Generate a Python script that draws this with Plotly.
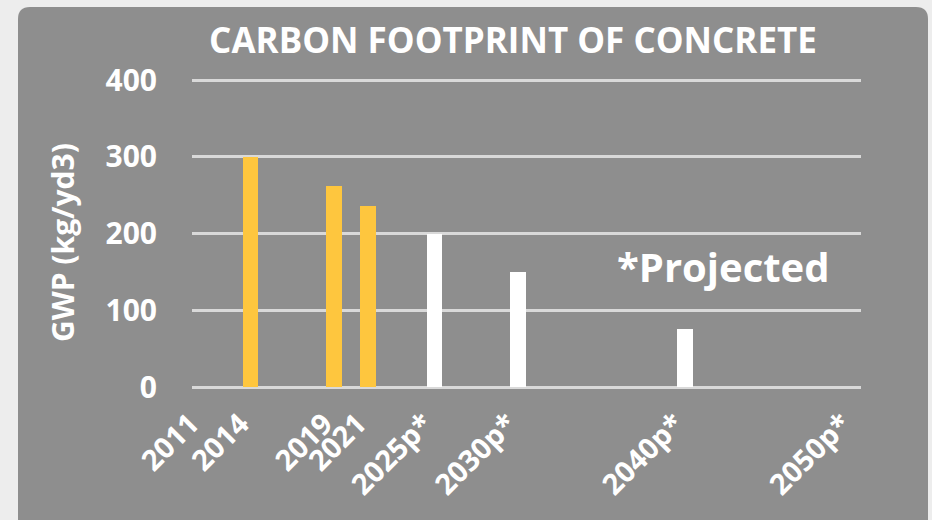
import plotly.graph_objects as go

# ---- data ----
years = [2011, 2014, 2019, 2021, 2025, 2030, 2040, 2050]
year_labels = ["2011", "2014", "2019", "2021", "2025p*", "2030p*", "2040p*", "2050p*"]
gwp = [0, 300, 262, 236, 200, 150, 75, 0]
projected = [False, False, False, False, True, True, True, True]

# ---- style ----
W, H = 932, 520
L, R, T, B = 192, 932 - 861, 77, 133
PW, PH = W - L - R, H - T - B
YELLOW = "#FEC63E"
WHITE = "#FFFFFF"
PANEL = "#8E8E8E"
OUTER = "#EDEDED"
GRID = "#D9D9D9"
FONT = "Open Sans"

def px(x):
    return (x - L) / PW

def py(y):
    return (H - B - y) / PH

colors = [WHITE if p else YELLOW for p in projected]

fig = go.Figure()
fig.add_trace(go.Bar(
    x=years, y=gwp, width=0.95,
    marker=dict(color=colors, line=dict(width=0)),
    hoverinfo="x+y",
))

# rounded panel
x0, x1, y0, y1, r = 18, 928, 7, 540, 12
rx, ry = r / PW, r / PH
X0, X1, Y0, Y1 = px(x0), px(x1), py(y0), py(y1)
path = (f"M {X0},{Y1} L {X0},{Y0 - ry} Q {X0},{Y0} {X0 + rx},{Y0} "
        f"L {X1 - rx},{Y0} Q {X1},{Y0} {X1},{Y0 - ry} L {X1},{Y1} Z")
fig.add_shape(type="path", path=path, xref="paper", yref="paper",
              fillcolor=PANEL, line=dict(width=0), layer="below")

fig.add_annotation(text="*Projected", xref="paper", yref="paper",
                   x=px(723), y=py(266), showarrow=False,
                   font=dict(family=FONT, size=40, color=WHITE, weight="bold"),
                   xanchor="center", yanchor="middle")

fig.add_annotation(text="GWP (kg/yd3)", xref="paper", yref="paper",
                   x=px(63), y=py(243), showarrow=False, textangle=-90,
                   font=dict(family=FONT, size=30, color=WHITE, weight="bold"),
                   xanchor="center", yanchor="middle")

fig.update_layout(
    width=W, height=H,
    margin=dict(l=L, r=R, t=T, b=B, pad=0),
    paper_bgcolor=OUTER, plot_bgcolor="rgba(0,0,0,0)",
    showlegend=False, bargap=0,
    title=dict(text="CARBON FOOTPRINT OF CONCRETE", xref="container", yref="container",
               x=513 / W, y=1 - 41 / H, xanchor="center", yanchor="middle",
               font=dict(family=FONT, size=35, color=WHITE, weight="bold")),
    xaxis=dict(range=[2010.5, 2050.5], tickmode="array", tickvals=years,
               ticktext=year_labels, tickangle=-45, showgrid=False, zeroline=False,
               showline=False, ticks="", ticklabelstandoff=13, ticklabelshift=-10,
               tickfont=dict(family=FONT, size=29, color=WHITE, weight="bold")),
    yaxis=dict(range=[0, 404], tickmode="array", tickvals=[0, 100, 200, 300, 400],
               showgrid=True, gridcolor=GRID, gridwidth=2.5,
               zeroline=True, zerolinecolor=GRID, zerolinewidth=2.5,
               showline=False, ticks="", ticklabelstandoff=34,
               tickfont=dict(family=FONT, size=30, color=WHITE, weight="bold")),
)

fig.write_html("out.html", config={"displayModeBar": False},
               post_script="document.body.style.margin='0';document.body.style.background='#EDEDED';")
